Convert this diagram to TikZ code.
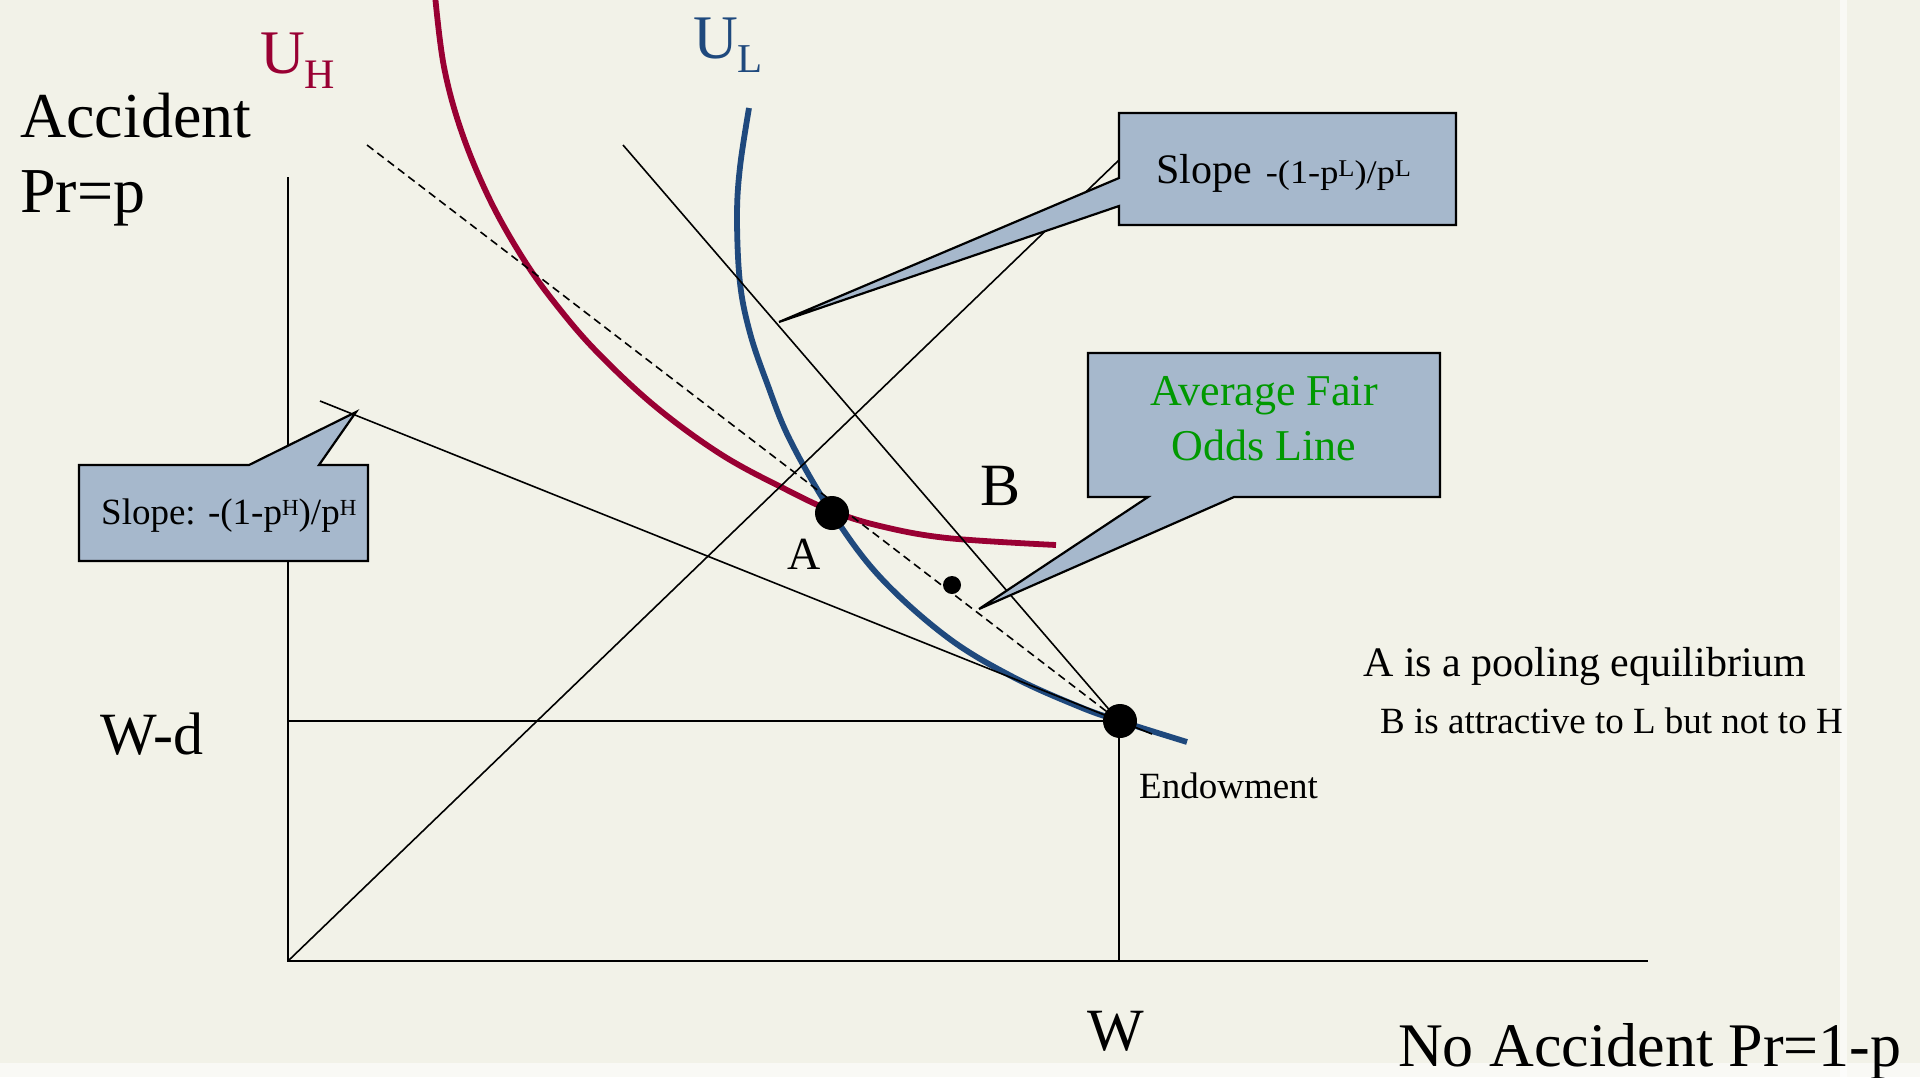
\documentclass[tikz,border=0pt]{standalone}
\usepackage{fontspec}
\setmainfont{Liberation Serif}
\definecolor{bg}{RGB}{242,242,232}
\definecolor{uh}{RGB}{153,0,51}
\definecolor{ul}{RGB}{31,73,125}
\definecolor{boxfill}{RGB}{166,184,204}
\definecolor{fair}{RGB}{0,153,0}
\newcommand\fs[1]{\fontsize{#1}{#1}\selectfont}
\newcommand\supr[3]{\raisebox{#1pt}{\fs{#2}#3}}
\begin{document}
\begin{tikzpicture}[x=1pt,y=-1pt,
  thinline/.style={line width=1.6pt, black},
  axisline/.style={line width=2.2pt, black},
  callout/.style={fill=boxfill, draw=black, line width=2.2pt, line join=miter},
  lbl/.style={inner sep=0pt, anchor=base west},
  curveH/.style={uh, line width=5.8pt},
  curveL/.style={ul, line width=5.8pt},
  dot/.style={circle, fill=black, inner sep=0pt}]
\fill[bg] (0,0) rectangle (1920,1077);
\fill[white, opacity=0.6] (0,1063) rectangle (1920,1077);
\fill[white, opacity=0.6] (1840,0) rectangle (1847,1077);
\useasboundingbox (0,0) rectangle (1920,1077);

% key points
\coordinate (O) at (288,961);
\coordinate (Ytop) at (288,177);
\coordinate (Xend) at (1648,961);
\coordinate (E) at (1119,721);
\coordinate (Wd) at (288,721);
\coordinate (Wx) at (1119,961);
\coordinate (Dtop) at (1119,160);
\coordinate (Htop) at (320,401);
\coordinate (Hend) at (1152,734);
\coordinate (Ltop) at (623,145);
\coordinate (Ftop) at (367,145);

% indifference curves
\draw[curveH] plot[smooth, tension=0.6] coordinates {(435,-5) (444,67) (462,133) (490,200) (524,260) (558,307) (598,353) (656,407) (722,455) (787,490) (832,511) (880,526) (947,538) (1056,545)};
\draw[curveL] plot[smooth, tension=0.6] coordinates {(749,108) (740,167) (737,217) (740,283) (750,333) (767,383) (790,440) (832,513) (880,577) (947,637) (1013,677) (1080,707) (1120,721) (1187,742)};

% axes and lines
\draw[axisline] (Ytop) -- (O) -- (Xend);
\draw[thinline] (Wd) -- (E) -- (Wx);
\draw[thinline] (O) -- (Dtop);
\draw[thinline] (Htop) -- (Hend);
\draw[thinline] (Ltop) -- (E);
\draw[thinline, dash pattern=on 8pt off 5pt] (Ftop) -- (E);

% callouts
\draw[callout] (1119,113) -- (1456,113) -- (1456,225) -- (1119,225) -- (1119,206) -- (779,322) -- (1119,178) -- cycle;
\node[lbl] (sL) at (1156,183) {\fs{42}Slope\hspace{14pt}{\fs{33}\addfontfeatures{FakeStretch=1.1}-(1-p\supr{7}{24}{L})/p\supr{7}{24}{L}}};

\draw[callout] (79,465) -- (249,465) -- (356,412) -- (319,465) -- (368,465) -- (368,561) -- (79,561) -- cycle;
\node[lbl] (sH) at (101,524) {\fs{37}Slope: -(1-p\supr{9}{23}{H})/p\supr{9}{23}{H}};

\draw[callout] (1088,353) -- (1440,353) -- (1440,497) -- (1234,497) -- (979,609) -- (1148,497) -- (1088,497) -- cycle;
\node[fair, inner sep=0pt, anchor=base] (f1) at (1264,405) {\fs{44}Average Fair};
\node[fair, inner sep=0pt, anchor=base] (f2) at (1264,460) {\fs{44}Odds Line};

% dots
\node[dot, minimum size=34pt] (A) at (832,513) {};
\node[dot, minimum size=34pt] (En) at (1120,721) {};
\node[dot, minimum size=18pt] (m) at (952,585) {};

% labels
\node[lbl] (acc) at (20,137) {\fs{64}Accident};
\node[lbl] (prp) at (20,212) {\fs{64}Pr=p};
\node[lbl, text=uh] (UH) at (260,73) {\fs{62}U\raisebox{-15pt}{\fs{42}H}};
\node[lbl, text=ul] (UL) at (693,58) {\fs{62}U\raisebox{-14pt}{\fs{41}L}};
\node[lbl] (Wdl) at (100,754) {\fs{60}W-d};
\node[lbl] (Wl) at (1087,1050) {\fs{60}W};
\node[lbl] (NA) at (1398,1066) {\fs{62}No Accident Pr=1-p};
\node[lbl] (Al) at (787,569) {\fs{46}A};
\node[lbl] (Bl) at (980,505) {\fs{60}B};
\node[lbl] (endl) at (1139,798) {\fs{37}Endowment};
\node[lbl] (t1) at (1363,676) {\fs{42}A is a pooling equilibrium};
\node[lbl] (t2) at (1380,733) {\fs{37}B is attractive to L but not to H};
\end{tikzpicture}
\end{document}
